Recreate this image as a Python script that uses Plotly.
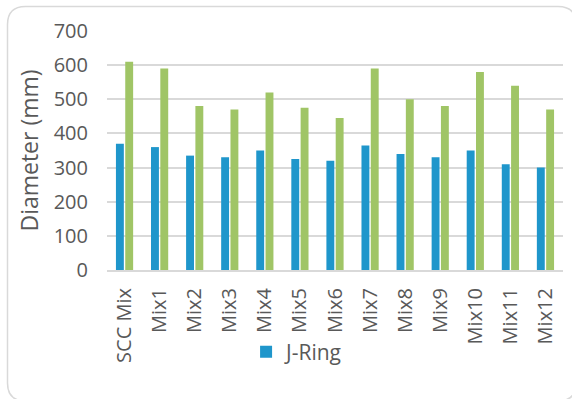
import plotly.graph_objects as go

# Mix designs and measured spread diameters (mm)
mixes = ["SCC Mix", "Mix1", "Mix2", "Mix3", "Mix4", "Mix5", "Mix6",
         "Mix7", "Mix8", "Mix9", "Mix10", "Mix11", "Mix12"]
j_ring = [370, 360, 335, 330, 350, 325, 320, 365, 340, 330, 350, 310, 300]
slump_flow = [610, 590, 480, 470, 520, 475, 445, 590, 500, 480, 580, 540, 470]
y_ticks = [0, 100, 200, 300, 400, 500, 600, 700]

W, H = 572, 399
L, R, T, B = 107, 9, 31, 129
TEXT = "#595959"
GRID = "#d9d9d9"
FONT = "Open Sans"

fig = go.Figure()
fig.add_trace(go.Bar(x=mixes, y=j_ring, name="J-Ring",
                     marker=dict(color="#1F96CB", line=dict(width=0))))
fig.add_trace(go.Bar(x=mixes, y=slump_flow, name="Slump Flow", showlegend=False,
                     marker=dict(color="#A0C566", line=dict(width=0))))

# rounded chart-area frame, expressed in paper coordinates
pw, ph = W - L - R, H - T - B


def px(x, y):
    return (x - L) / pw, (H - B - y) / ph


def frame_path(x0, y0, x1, y1, r):
    pts = []
    def p(x, y):
        a, b = px(x, y)
        return f"{a:.5f},{b:.5f}"
    pts.append("M" + p(x0 + r, y0))
    pts.append("L" + p(x1 - r, y0))
    pts.append("Q" + p(x1, y0) + " " + p(x1, y0 + r))
    pts.append("L" + p(x1, y1 - r))
    pts.append("Q" + p(x1, y1) + " " + p(x1 - r, y1))
    pts.append("L" + p(x0 + r, y1))
    pts.append("Q" + p(x0, y1) + " " + p(x0, y1 - r))
    pts.append("L" + p(x0, y0 + r))
    pts.append("Q" + p(x0, y0) + " " + p(x0 + r, y0))
    return " ".join(pts) + " Z"


fig.add_shape(type="path", xref="paper", yref="paper",
              path=frame_path(7.5, 6.5, 576, 401, 18),
              line=dict(color=GRID, width=1.5), layer="below")

fig.update_layout(
    width=W, height=H,
    margin=dict(l=L, r=R, t=T, b=B),
    paper_bgcolor="white", plot_bgcolor="white",
    font=dict(family=FONT, color=TEXT, size=20),
    barmode="group", bargap=0.47, bargroupgap=0.15,
    showlegend=True,
    legend=dict(x=0.305, y=-0.343, xanchor="left", yanchor="middle",
                orientation="h", font=dict(size=21, color=TEXT),
                bgcolor="rgba(0,0,0,0)"),
)
fig.update_xaxes(tickangle=-90, tickfont=dict(size=20, color=TEXT),
                 showgrid=False, showline=True, linecolor=GRID, linewidth=2,
                 ticks="", ticklabelstandoff=8)
fig.update_yaxes(range=[0, 700], tickvals=y_ticks, tickfont=dict(size=20, color=TEXT),
                 showgrid=True, gridcolor=GRID, gridwidth=1.5,
                 zeroline=False, showline=False, ticks="", ticklabelstandoff=18,
                 title=dict(text="Diameter (mm)", font=dict(size=23, color=TEXT),
                            standoff=8))

fig.write_html("out.html")
